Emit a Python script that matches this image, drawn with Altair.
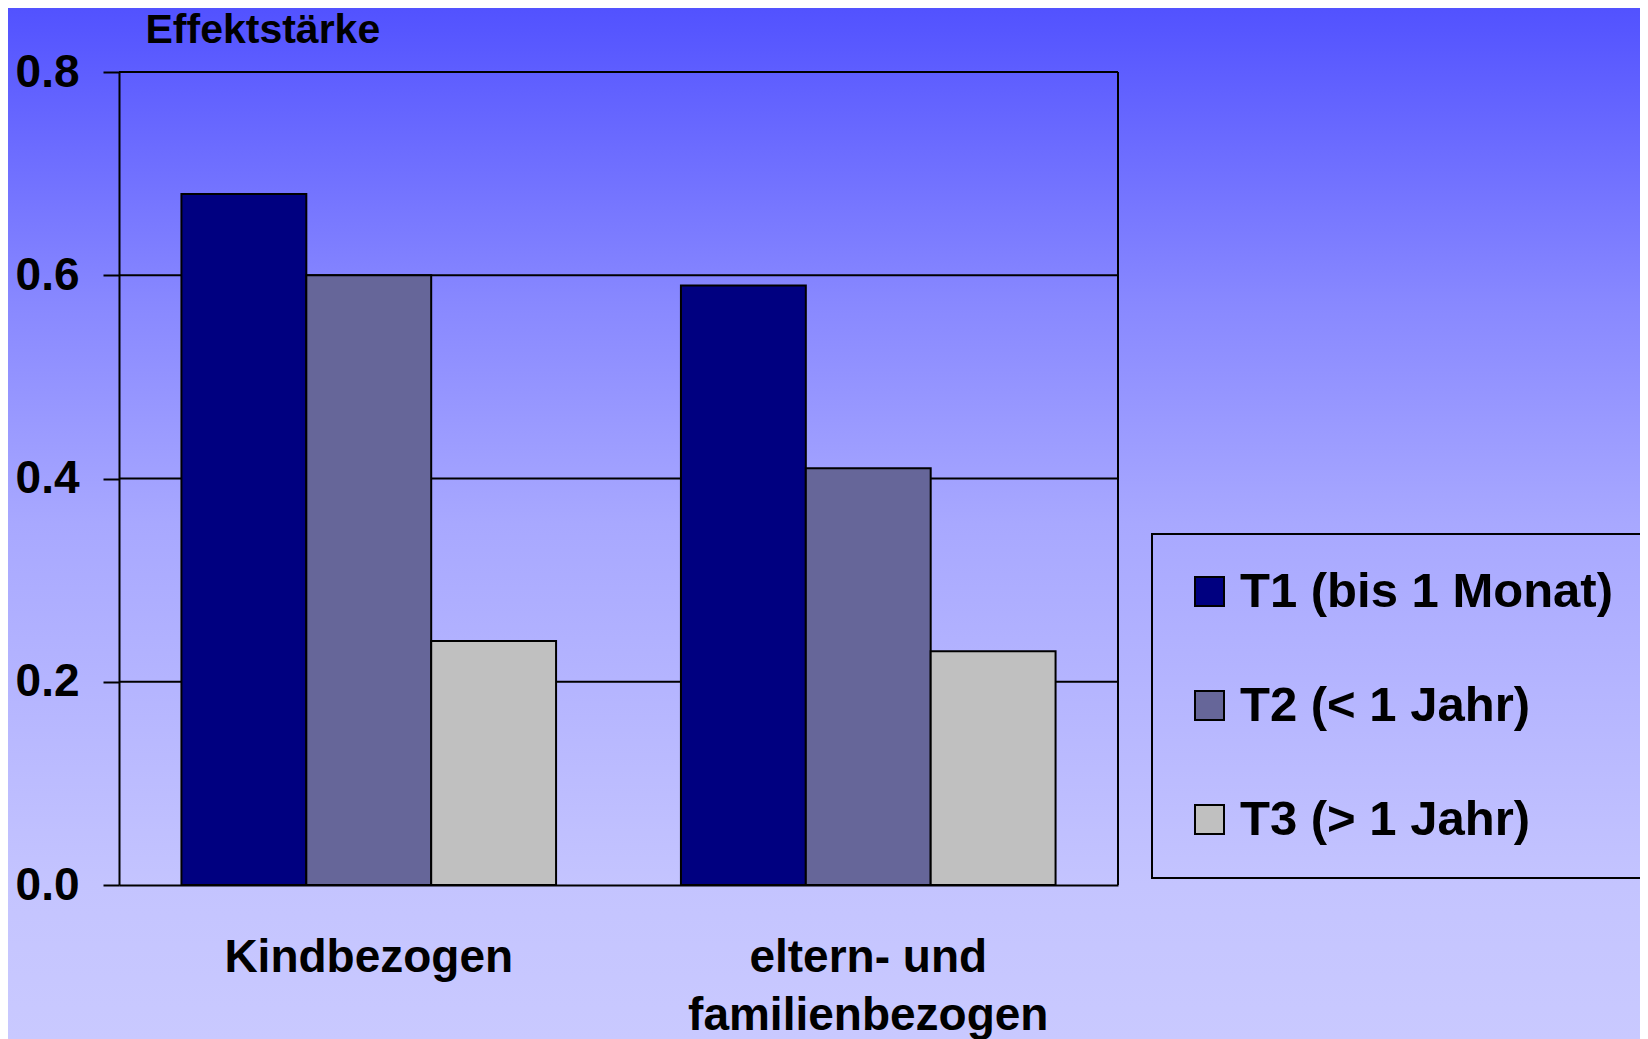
import altair as alt
import pandas as pd

# ---- data ----
categories = ["Kindbezogen", "eltern- und\nfamilienbezogen"]
series = ["T1 (bis 1 Monat)", "T2 (< 1 Jahr)", "T3 (> 1 Jahr)"]
t1_values = [0.68, 0.59]
t2_values = [0.60, 0.41]
t3_values = [0.24, 0.23]
series_colors = ["#000080", "#666699", "#C0C0C0"]
y_tick_values = [0.0, 0.2, 0.4, 0.6, 0.8]
grid_values = [0.2, 0.4, 0.6, 0.8]

rows = []
for s, vals in zip(series, [t1_values, t2_values, t3_values]):
    for c, v in zip(categories, vals):
        rows.append({"cat": c, "series": s, "value": v})
df = pd.DataFrame(rows)

# ---- layout ----
W, H = 999, 813
PAD_L, PAD_T, PAD_R, PAD_B = 111, 64, 522, 154
FONT = "Liberation Sans"

y_scale = alt.Scale(domain=[0, 0.8], nice=False, zero=True)
y_axis = alt.Axis(
    values=y_tick_values, format=".1f", grid=False, zindex=1,
    labelFont=FONT, labelFontWeight="bold", labelFontSize=46, labelColor="black",
    labelPadding=24, tickSize=16, tickColor="black", tickWidth=2,
    domainColor="black", domainWidth=2,
    title="Effektstärke", titleAngle=0, titleX=26, titleY=-30,
    titleAlign="left", titleBaseline="alphabetic",
    titleFont=FONT, titleFontWeight="bold", titleFontSize=41, titleColor="black",
)
x_axis = alt.Axis(
    title=None, ticks=False, tickSize=0, labelAngle=0, zindex=1,
    labelFont=FONT, labelFontWeight="bold", labelFontSize=46, labelColor="black",
    labelPadding=50, labelBaseline="top", labelLineHeight=58, labelLimit=0,
    labelExpr="split(datum.label, '\\n')",
    domainColor="black", domainWidth=2,
)

grad = alt.LinearGradient(
    gradient="linear", x1=0, x2=0, y1=0, y2=1,
    stops=[
        alt.GradientStop(color="#5252ff", offset=0),
        alt.GradientStop(color="#8888ff", offset=0.285),
        alt.GradientStop(color="#a8a8ff", offset=0.5),
        alt.GradientStop(color="#c4c4ff", offset=0.85),
        alt.GradientStop(color="#c9c9ff", offset=1),
    ],
)

dummy = alt.Data(values=[{"k": 0}])

bg = alt.Chart(dummy).mark_rect(fill=grad, strokeWidth=0).encode(
    x=alt.value(-PAD_L), x2=alt.value(W + PAD_R),
    y=alt.value(-PAD_T), y2=alt.value(H + PAD_B),
)

grid = alt.Chart(pd.DataFrame({"value": grid_values})).mark_rule(
    color="black", strokeWidth=2
).encode(
    y=alt.Y("value:Q", scale=y_scale, axis=y_axis),
    x=alt.value(0), x2=alt.value(W),
)

border = alt.Chart(dummy).mark_rule(color="black", strokeWidth=2).encode(
    x=alt.value(W), y=alt.value(0), y2=alt.value(H),
)

bars = alt.Chart(df).mark_bar(stroke="black", strokeWidth=2).encode(
    x=alt.X("cat:N", sort=categories, axis=x_axis,
            scale=alt.Scale(paddingInner=0.25, paddingOuter=0.125)),
    xOffset=alt.XOffset("series:N", sort=series,
                        scale=alt.Scale(paddingInner=0, paddingOuter=0)),
    y=alt.Y("value:Q", scale=y_scale, axis=y_axis),
    color=alt.Color(
        "series:N", sort=series,
        scale=alt.Scale(domain=series, range=series_colors),
        legend=alt.Legend(
            title=None, orient="none", legendX=1033, legendY=462,
            symbolType="square", symbolSize=841, symbolStrokeColor="black",
            symbolStrokeWidth=2, symbolOpacity=1,
            labelFont=FONT, labelFontWeight="bold", labelFontSize=49,
            labelColor="black", labelOffset=6, labelLimit=0,
            rowPadding=64, padding=33, strokeColor="black",
        ),
    ),
)

chart = alt.layer(bg, grid, border, bars).properties(
    width=W, height=H,
    autosize=alt.AutoSizeParams(type="none"),
    padding={"left": PAD_L, "top": PAD_T, "right": PAD_R, "bottom": PAD_B},
).configure(background="#9a9aff").configure_view(stroke=None).configure_legend(strokeWidth=2)

chart.save("out.html", embed_options={"renderer": "svg", "actions": False})
